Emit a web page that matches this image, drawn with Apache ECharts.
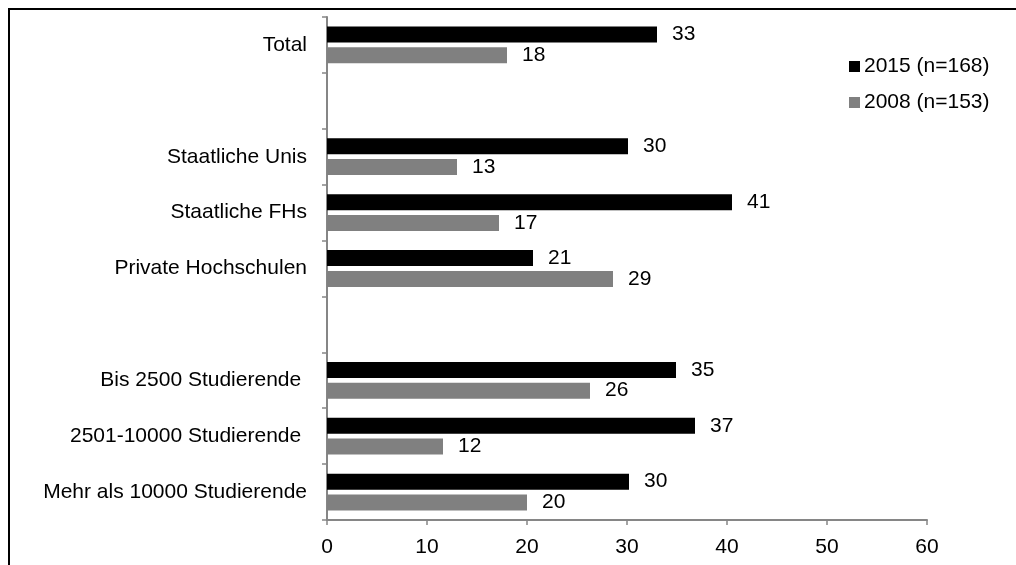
<!DOCTYPE html>
<html>
<head>
<meta charset="utf-8">
<script src="https://cdn.jsdelivr.net/npm/echarts@6/dist/echarts.min.js"></script>
<style>
  html, body { margin: 0; padding: 0; background: #fff; }
  #chart { width: 1016px; height: 565px; }
</style>
</head>
<body>
<div id="chart"></div>
<script>
// categories top to bottom, empty strings are the spacer rows
const categories = [
  'Total', '', 'Staatliche Unis', 'Staatliche FHs', 'Private Hochschulen', '',
  'Bis 2500 Studierende ', '2501-10000 Studierende ', 'Mehr als 10000 Studierende'
]
const values2015 = [33.0, null, 30.1, 40.5, 20.6, null, 34.9, 36.8, 30.2]
const values2008 = [18.0, null, 13.0, 17.2, 28.6, null, 26.3, 11.6, 20.0]
const seriesNames = ['2015 (n=168)', '2008 (n=153)']
const xTicks = { min: 0, max: 60, interval: 10 }

const font = "'Liberation Sans', Arial, sans-serif"
const axisGray = '#868686'

const chart = echarts.init(document.getElementById('chart'))

const barLabel = {
  show: true,
  position: 'right',
  distance: 15,
  fontFamily: font,
  fontSize: 21,
  color: '#000',
  formatter: p => Math.round(p.value)
}

chart.setOption({
  animation: false,
  backgroundColor: '#fff',
  textStyle: { fontFamily: font },
  grid: { left: 327, right: 89, top: 17, bottom: 45, containLabel: false },
  legend: {
    orient: 'vertical',
    left: 844,
    top: 51,
    itemWidth: 11,
    itemHeight: 11,
    itemGap: 15,
    icon: 'rect',
    textStyle: { fontFamily: font, fontSize: 21, color: '#000', padding: [0, 0, 0, -1] },
    data: seriesNames
  },
  xAxis: {
    type: 'value',
    min: xTicks.min,
    max: xTicks.max,
    interval: xTicks.interval,
    axisLine: { show: true, lineStyle: { color: axisGray, width: 2 } },
    axisTick: { show: true, length: 5, lineStyle: { color: axisGray, width: 1.5 } },
    splitLine: { show: false },
    axisLabel: { fontFamily: font, fontSize: 21, color: '#000', margin: 17 }
  },
  yAxis: {
    type: 'category',
    data: categories,
    inverse: true,
    axisLine: { show: true, lineStyle: { color: axisGray, width: 2 } },
    axisTick: { show: true, length: 5, lineStyle: { color: axisGray, width: 1.5 } },
    axisLabel: { fontFamily: font, fontSize: 21, color: '#000', margin: 20, interval: 0 }
  },
  series: [
    {
      name: seriesNames[0],
      type: 'bar',
      data: values2015,
      barWidth: 16,
      barGap: '30%',
      itemStyle: { color: '#000000' },
      label: barLabel
    },
    {
      name: seriesNames[1],
      type: 'bar',
      data: values2008,
      barWidth: 16,
      barGap: '30%',
      itemStyle: { color: '#808080' },
      label: barLabel
    }
  ],
  graphic: [
    {
      type: 'rect',
      shape: { x: 9, y: 9, width: 1200, height: 800 },
      style: { fill: 'none', stroke: '#000', lineWidth: 2 },
      silent: true
    }
  ]
})
</script>
</body>
</html>
